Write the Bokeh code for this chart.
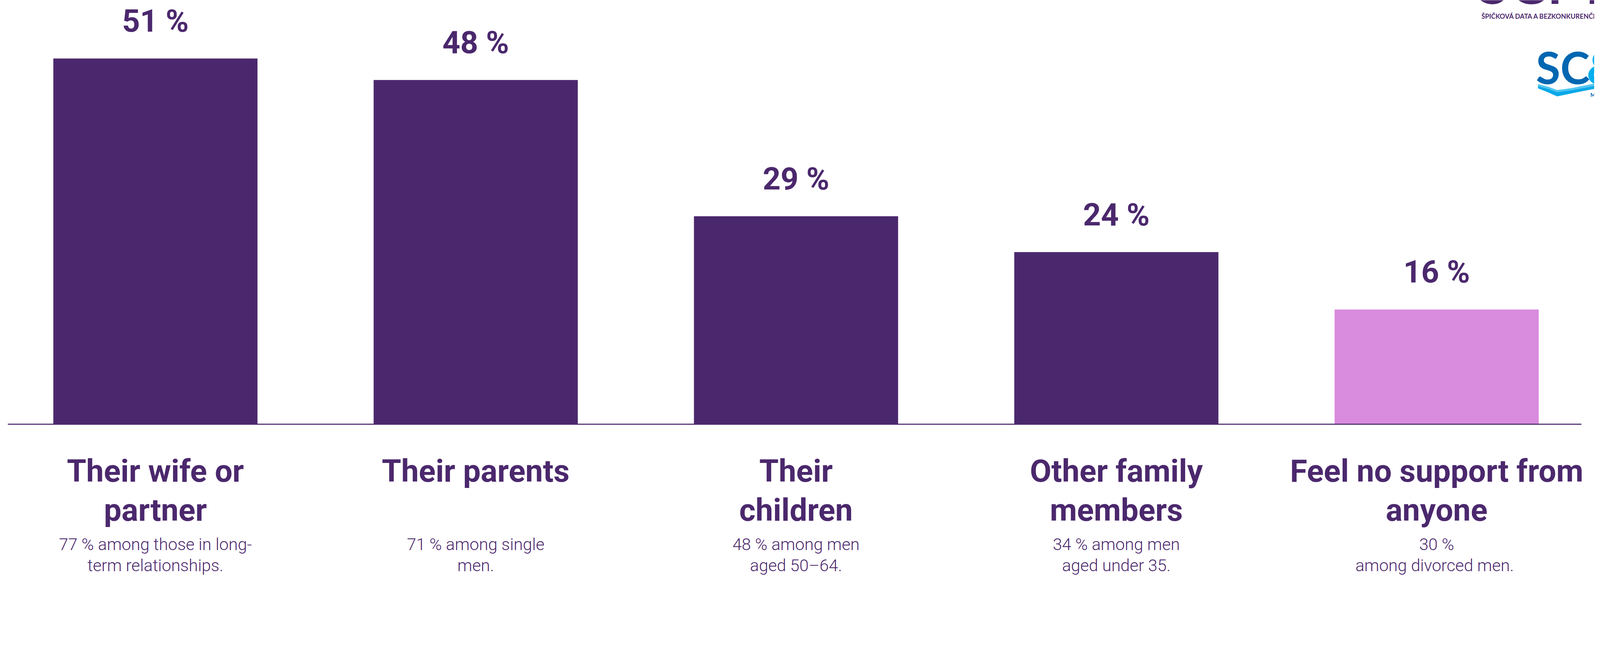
from bokeh.plotting import figure
from bokeh.models import Range1d, ColumnDataSource
from bokeh.core.properties import value
from bokeh.embed import file_html
from bokeh.resources import INLINE

# ---------------- data ----------------
categories = [
    "Their wife or\npartner",
    "Their parents",
    "Their\nchildren",
    "Other family\nmembers",
    "Feel no support from\nanyone",
]
values = [51, 48, 29, 24, 16]
notes = [
    "77 % among those in long-\nterm relationships.",
    "71 % among single\nmen.",
    "48 % among men\naged 50\u201364.",
    "34 % among men\naged under 35.",
    "30 %\namong divorced  men.",
]
bar_colors = ["#4B286D", "#4B286D", "#4B286D", "#4B286D", "#D98BDE"]

PURPLE = "#4B286D"
BLUE = "#0067B1"
LIGHT_BLUE = "#00AEEF"

# ---------------- geometry ----------------
# page is rendered at 1.125 screen px per CSS px; design below is in CSS px
S = 1.125
FIG_W, FIG_H = 4081, 1472
OFF = 6 / S


def c(px):          # screen px of reference -> figure css px
    return px / S - 8 + OFF


def sz(px):         # screen size -> css size
    return px / S


X0, XSTEP = c(450), sz(922.5)     # first category centre, spacing
Y0, YUNIT = c(1224), sz(20.65)    # 0 % line, pixels per percent


def dx(px):
    return (c(px) - X0) / XSTEP


def dy(py):
    return (Y0 - c(py)) / YUNIT


p = figure(
    width=FIG_W, height=FIG_H,
    output_backend="svg", toolbar_location=None,
    x_range=Range1d(-X0 / XSTEP, (FIG_W - X0) / XSTEP),
    y_range=Range1d((Y0 - FIG_H) / YUNIT, Y0 / YUNIT),
    x_axis_location=None, y_axis_location=None,
    min_border=0, outline_line_color=None,
    background_fill_color="white", border_fill_color="white",
)
p.grid.visible = False

idx = list(range(len(values)))
src = ColumnDataSource(dict(
    x=idx, top=values, color=bar_colors,
    label=[f"{v} %" for v in values],
))

BOLD = 80
LIGHT = 42.7
BSHIFT = 0.25 * BOLD + 5.3     # correction for text baseline placement
LSHIFT = 0.25 * LIGHT + 5.3

# bars
p.vbar(x="x", top="top", bottom=0, width=sz(588) / XSTEP, fill_color="color",
       line_color=None, source=src)

# baseline
p.segment(x0=[dx(25)], y0=[0], x1=[dx(4557)], y1=[0],
          line_color=PURPLE, line_width=2.7)

# value labels
p.text(x="x", y="top", text="label", source=src,
       text_align="center", text_baseline="alphabetic",
       y_offset=-(sz(75) + 0.25 * BOLD + 9),
       text_font=value("Roboto"), text_font_style="bold",
       text_font_size=f"{BOLD}px", text_color=PURPLE)


def add_lines(texts, offsets, font, style, size):
    rows = {}
    for i, t in enumerate(texts):
        for k, line in enumerate(t.split("\n")):
            rows.setdefault(k, {"x": [], "y": [], "t": []})
            rows[k]["x"].append(i)
            rows[k]["y"].append(0)
            rows[k]["t"].append(line)
    for k, r in rows.items():
        p.text(x=r["x"], y=r["y"], text=r["t"],
               text_align="center", text_baseline="alphabetic",
               y_offset=offsets[k],
               text_font=value(font), text_font_style=style,
               text_font_size=f"{size}px", text_color=PURPLE)


# baselines below the 0 % line (screen px of reference)
add_lines(categories, [sz(164) - BSHIFT, sz(276) - BSHIFT],
          "Roboto", "bold", BOLD)
add_lines(notes, [sz(364) - LSHIFT, sz(424) - LSHIFT],
          "Roboto Light", "normal", LIGHT)

# ---------------- logos (top right) ----------------
def logo_text(x_px, base_px, txt, size_px, color, shift=0.38):
    size = sz(size_px)
    p.text(x=[dx(x_px)], y=[dy(base_px)], text=[txt], text_align="left",
           text_baseline="alphabetic", y_offset=-shift * size,
           text_font=value("Lato"), text_font_style="bold",
           text_font_size=f"{size:.1f}px", text_color=color)


logo_text(4258, 20, "SCM", 165, PURPLE, shift=0.43)
logo_text(4269, 55, "ŠPIČKOVÁ DATA A BEZKONKURENČN", 19, PURPLE, shift=0.3)
logo_text(4426, 233, "SC", 128, BLUE, shift=0.3)
logo_text(4572, 233, "&", 128, LIGHT_BLUE, shift=0.3)
logo_text(4583, 280, "MAR", 15, BLUE, shift=0.3)

wave_top = [(4432, 245), (4460, 252), (4487, 262), (4530, 256), (4575, 247), (4610, 240)]
wave_mid = [(4610, 247), (4575, 254), (4530, 262), (4487, 268), (4460, 258), (4432, 251)]
wave_bot = [(4610, 255), (4575, 262), (4530, 271), (4487, 280), (4460, 268), (4432, 257)]
p.patch([dx(a) for a, b in wave_top + wave_bot], [dy(b) for a, b in wave_top + wave_bot],
        fill_color="#0AA8E8", line_color=None)
p.patch([dx(a) for a, b in wave_top + wave_mid], [dy(b) for a, b in wave_top + wave_mid],
        fill_color="#55C6F2", line_color=None)

open("out.html", "w").write(file_html(p, INLINE))
